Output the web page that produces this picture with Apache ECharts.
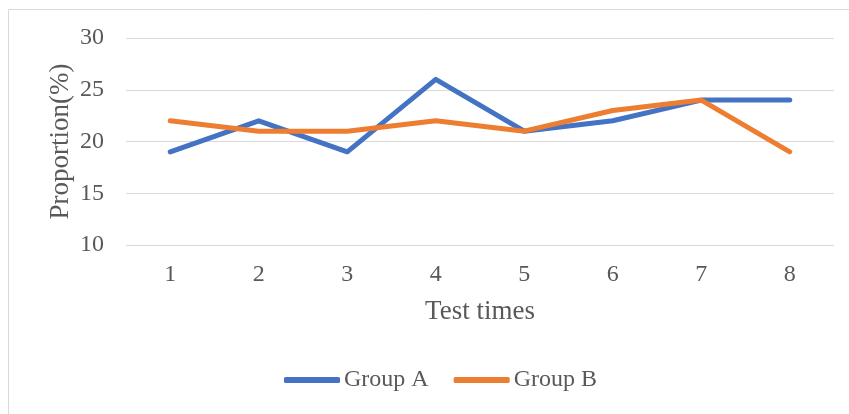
<!DOCTYPE html>
<html>
<head>
<meta charset="utf-8">
<script src="https://cdn.jsdelivr.net/npm/echarts@6/dist/echarts.min.js"></script>
<style>
  html, body { margin: 0; padding: 0; background: #fff; }
  #chart { width: 849px; height: 414px; }
</style>
</head>
<body>
<div id="chart"></div>
<script>
// Test rounds on the x axis
const testTimes = ['1', '2', '3', '4', '5', '6', '7', '8'];
// Proportion (%) per round
const groupA = [19, 22, 19, 26, 21, 22, 24, 24];
const groupB = [22, 21, 21, 22, 21, 23, 24, 19];

const textColor = '#595959';
const serif = '"Liberation Serif", "Times New Roman", serif';

const chart = echarts.init(document.getElementById('chart'), null, { renderer: 'canvas' });

chart.setOption({
  backgroundColor: '#fff',
  animation: false,
  textStyle: { fontFamily: serif, color: textColor },
  graphic: [{
    type: 'rect',
    shape: { x: 8.5, y: 9.5, width: 860, height: 420 },
    style: { fill: 'none', stroke: '#d9d9d9', lineWidth: 1 },
    silent: true
  }],
  grid: { left: 126, right: 15, top: 38, bottom: 169, containLabel: false },
  legend: {
    top: 363,
    left: 279,
    icon: 'roundRect',
    itemWidth: 56,
    itemHeight: 6,
    itemGap: 25,
    textStyle: { fontFamily: serif, fontSize: 24, color: textColor, padding: [0, 0, 0, -1] },
    data: ['Group A', 'Group B']
  },
  xAxis: {
    type: 'category',
    data: testTimes,
    boundaryGap: true,
    name: 'Test times',
    nameLocation: 'middle',
    nameGap: 53,
    nameMoveOverlap: false,
    nameTextStyle: { fontFamily: serif, fontSize: 27, color: textColor },
    axisLine: { show: false },
    axisTick: { show: false },
    axisLabel: { fontFamily: serif, fontSize: 24, color: textColor, margin: 18 }
  },
  yAxis: {
    type: 'value',
    min: 10,
    max: 30,
    interval: 5,
    name: 'Proportion(%)',
    nameLocation: 'middle',
    nameGap: 52,
    nameMoveOverlap: false,
    nameTextStyle: { fontFamily: serif, fontSize: 27, color: textColor },
    axisLine: { show: false },
    axisTick: { show: false },
    axisLabel: { fontFamily: serif, fontSize: 24, color: textColor, margin: 22 },
    splitLine: { lineStyle: { color: '#d9d9d9', width: 1 } }
  },
  series: [
    {
      name: 'Group A',
      type: 'line',
      data: groupA,
      symbol: 'none',
      color: '#4472C4',
      lineStyle: { width: 5, color: '#4472C4', cap: 'round', join: 'round' }
    },
    {
      name: 'Group B',
      type: 'line',
      data: groupB,
      symbol: 'none',
      color: '#ED7D31',
      lineStyle: { width: 5, color: '#ED7D31', cap: 'round', join: 'round' }
    }
  ]
});
</script>
</body>
</html>
